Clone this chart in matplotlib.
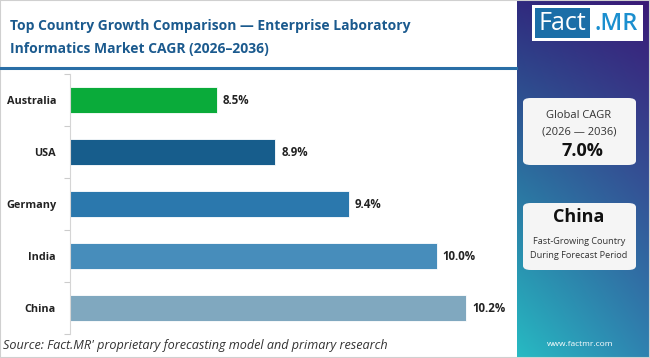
import matplotlib
matplotlib.use("Agg")
import matplotlib.pyplot as plt
import numpy as np
from matplotlib.patches import FancyBboxPatch, Rectangle
from matplotlib.colors import to_rgb

countries = ["Australia", "USA", "Germany", "India", "China"]
cagr = [8.5, 8.9, 9.4, 10.0, 10.2]
bar_colors = ["#0aab3a", "#175d8c", "#2b78ad", "#478dbb", "#80a8bf"]
title = "Top Country Growth Comparison \u2014 Enterprise Laboratory\nInformatics Market CAGR (2026\u20132036)"
global_cagr = "7.0%"
fastest = "China"

W, H = 650, 358
fig = plt.figure(figsize=(W/100, H/100), dpi=100)
fig.patch.set_facecolor("white")

def fx(px): return px / W
def fy(py): return 1 - py / H

FONT = "Open Sans"

# Outer border
fig.patches.append(Rectangle((0, 0), 1, 1, transform=fig.transFigure,
                             fill=False, edgecolor="#d0d0d0", lw=1.5))

# Title
fig.text(fx(10), fy(37.5), title, fontsize=10, fontweight="bold", color="#1b5a8e",
         family=FONT, va="center", ha="left", linespacing=1.75)
# Blue rule
fig.add_artist(plt.Line2D([0, fx(516)], [fy(68), fy(68)], color="#2a6ea6", lw=2.2,
                          transform=fig.transFigure))

# Bar axes
ax = fig.add_axes([fx(70), fy(334), fx(510) - fx(70), fy(74) - fy(334)])
y = np.arange(len(countries))
ax.barh(y, cagr, left=0, height=0.5, color=bar_colors, edgecolor="white", lw=0.6, zorder=2)
ax.set_xlim(7.5, 10.5)
ax.set_ylim(len(countries) - 0.5, -0.5)
ax.set_yticks(y)
ax.set_yticklabels(countries, fontsize=7.8, fontweight="bold", color="#222222", family=FONT)
ax.tick_params(axis="y", length=0, pad=10)
ax.set_yticks(np.arange(-0.5, len(countries)), minor=True)
ax.tick_params(axis="y", which="minor", length=4, color="#cccccc", width=0.8)
ax.set_xticks([])
for s in ["top", "right", "bottom"]:
    ax.spines[s].set_visible(False)
ax.spines["left"].set_color("#d5d5d5")
ax.spines["left"].set_linewidth(0.8)
for yi, v in zip(y, cagr):
    ax.text(v + 0.04, yi, f"{v:.1f}%", va="center", ha="left", fontsize=8.3,
            fontweight="bold", color="#222222", family=FONT)

# Source
fig.text(fx(3), fy(346), "Source: Fact.MR' proprietary forecasting model and primary research",
         fontsize=9.1, style="italic", color="#333333", family=FONT, va="center", ha="left")

# Right gradient panel
px0, px1 = 517, 650
gax = fig.add_axes([fx(px0), 0, fx(px1) - fx(px0), 1])
gax.set_axis_off()
TL = np.array(to_rgb("#302a7e")); TR = np.array(to_rgb("#3a1a77"))
BL = np.array(to_rgb("#27bbc3")); BR = np.array(to_rgb("#2f82b0"))
n = 200
u = np.linspace(0, 1, n)[None, :, None]
v = np.linspace(0, 1, n)[:, None, None]
img = (1 - v) * ((1 - u) * TL + u * TR) + v * ((1 - u) * BL + u * BR)
gax.imshow(img, aspect="auto", extent=[0, 1, 1, 0], origin="upper")
gax.set_xlim(0, 1); gax.set_ylim(1, 0)

# Logo
fig.patches.append(Rectangle((fx(532), fy(41)), fx(643) - fx(532), fy(5) - fy(41),
                             transform=fig.transFigure, facecolor="white", edgecolor="none"))
fig.patches.append(Rectangle((fx(535), fy(38)), fx(590) - fx(535), fy(8) - fy(38),
                             transform=fig.transFigure, facecolor="#1b6ea7", edgecolor="none"))
fig.text(fx(562.5), fy(23.5), "Fact", fontsize=18, color="white", family=FONT,
         ha="center", va="center")
fig.text(fx(616), fy(23.5), ".MR", fontsize=17, fontweight="semibold", color="#1b8fcf",
         family=FONT, ha="center", va="center")

# Cards
def card(x0, y0, x1, y1):
    p = FancyBboxPatch((fx(x0), fy(y1)), fx(x1) - fx(x0), fy(y0) - fy(y1),
                       boxstyle="round,pad=0,rounding_size=0.012",
                       transform=fig.transFigure, facecolor="#f5f5f5", edgecolor="none")
    fig.patches.append(p)

card(523, 98, 636, 165)
fig.text(fx(579), fy(116), "Global CAGR", fontsize=8, color="#333333", family=FONT,
         ha="center", va="center")
fig.text(fx(579), fy(132), "(2026 \u2014 2036)", fontsize=8, color="#333333", family=FONT,
         ha="center", va="center")
fig.text(fx(582), fy(151), global_cagr, fontsize=13, fontweight="bold", color="#111111",
         family=FONT, ha="center", va="center")

card(523, 203, 636, 270)
fig.text(fx(579), fy(217), fastest, fontsize=13, fontweight="bold", color="#111111",
         family=FONT, ha="center", va="center")
fig.text(fx(579), fy(241), "Fast-Growing Country", fontsize=6.6, color="#333333",
         family=FONT, ha="center", va="center")
fig.text(fx(579), fy(255), "During Forecast Period", fontsize=6.6, color="#333333",
         family=FONT, ha="center", va="center")

fig.text(fx(580), fy(344), "www.factmr.com", fontsize=6, color="white", family=FONT,
         ha="center", va="center")

fig.savefig("out.png", dpi=100, facecolor="white")
